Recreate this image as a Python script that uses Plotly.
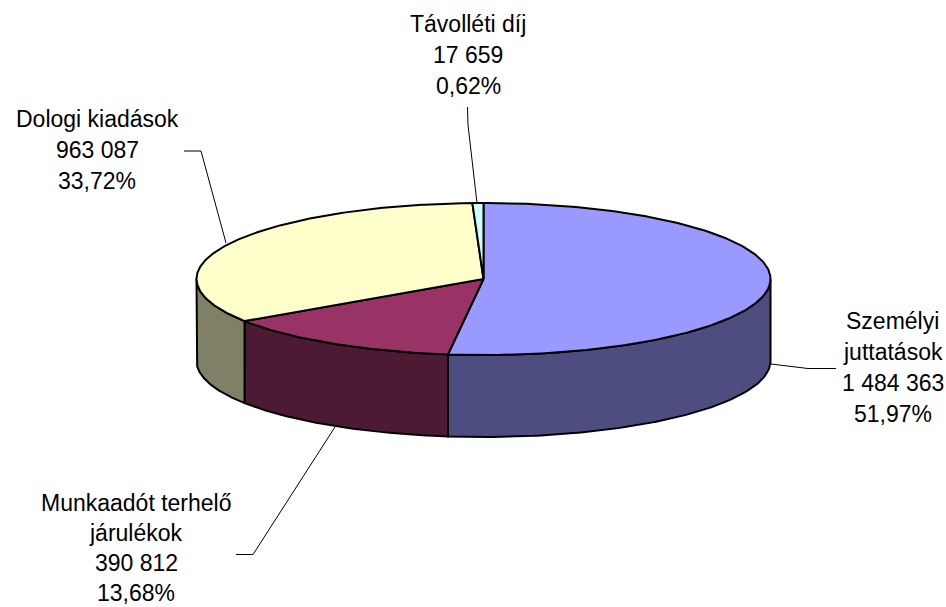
import numpy as np
import plotly.graph_objects as go

categories = ["Személyi juttatások", "Munkaadót terhelő járulékok", "Dologi kiadások", "Távolléti díj"]
values = [1484363, 390812, 963087, 17659]
percent_labels = ["51,97%", "13,68%", "33,72%", "0,62%"]
value_labels = ["1 484 363", "390 812", "963 087", "17 659"]
label_lines = [["Személyi", "juttatások"], ["Munkaadót terhelő", "járulékok"], ["Dologi kiadások"], ["Távolléti díj"]]
top_colors = ["#9999FF", "#993366", "#FFFFCC", "#CCFFFF"]
side_colors = ["#4D4D80", "#4D1A33", "#808066", "#668080"]

CX, CY, RX, RY, DEPTH = 483.5, 279, 287, 76, 82
FONT = "Liberation Sans, Arial, sans-serif"
label_anchor = [(892.5, 320.5), (136, 503), (97, 118.5), (468, 23.5)]
label_step = [31.2, 30.0, 31.2, 31.2]
leaders = [
    [(771, 364), (808, 368.5), (836, 368.5)],
    [(335, 427), (253, 554.5), (236, 554.5)],
    [(226, 243), (201, 151), (184, 151)],
    [(477, 203), (468, 125), (467.5, 107)],
]

def pt(theta, dy=0.0):
    return CX + RX * np.sin(theta), CY - RY * np.cos(theta) + dy

total = sum(values)
edges = 2 * np.pi * np.cumsum([0] + values) / total

fig = go.Figure()
line = dict(color="black", width=2)

# Outer walls: only the part of the rim facing the viewer (90 to 270 degrees)
for i in range(len(values)):
    a = max(edges[i], np.pi / 2)
    b = min(edges[i + 1], 3 * np.pi / 2)
    if b <= a:
        continue
    t = np.linspace(a, b, 120)
    x1, y1 = pt(t)
    x2, y2 = pt(t[::-1], DEPTH)
    fig.add_trace(go.Scatter(x=np.r_[x1, x2, x1[0]], y=np.r_[y1, y2, y1[0]], mode="lines",
                             fill="toself", fillcolor=side_colors[i], line=line, hoverinfo="skip"))

# Top faces
for i in range(len(values)):
    t = np.linspace(edges[i], edges[i + 1], 240)
    x, y = pt(t)
    fig.add_trace(go.Scatter(x=np.r_[CX, x, CX], y=np.r_[CY, y, CY], mode="lines",
                             fill="toself", fillcolor=top_colors[i], line=line,
                             name=categories[i], hoverinfo="skip"))

# Leader lines
for pts in leaders:
    fig.add_trace(go.Scatter(x=[p[0] for p in pts], y=[p[1] for p in pts], mode="lines",
                             line=dict(color="black", width=1), hoverinfo="skip"))

# Labels, one annotation per line for the wide line spacing of the original
for i in range(len(values)):
    rows = label_lines[i] + [value_labels[i], percent_labels[i]]
    ax, ay = label_anchor[i]
    for j, row in enumerate(rows):
        fig.add_annotation(x=ax, y=ay + j * label_step[i], text=row, showarrow=False,
                           xanchor="center", yanchor="middle",
                           font=dict(family=FONT, size=23, color="black"))

fig.update_layout(
    width=946, height=607, margin=dict(l=0, r=0, t=0, b=0),
    paper_bgcolor="white", plot_bgcolor="white", showlegend=False,
    xaxis=dict(range=[0, 946], visible=False, fixedrange=True),
    yaxis=dict(range=[607, 0], visible=False, fixedrange=True),
)
fig.write_html("out.html", config={"displayModeBar": False},
               post_script="document.body.style.margin='0';document.documentElement.style.overflow='hidden';")
